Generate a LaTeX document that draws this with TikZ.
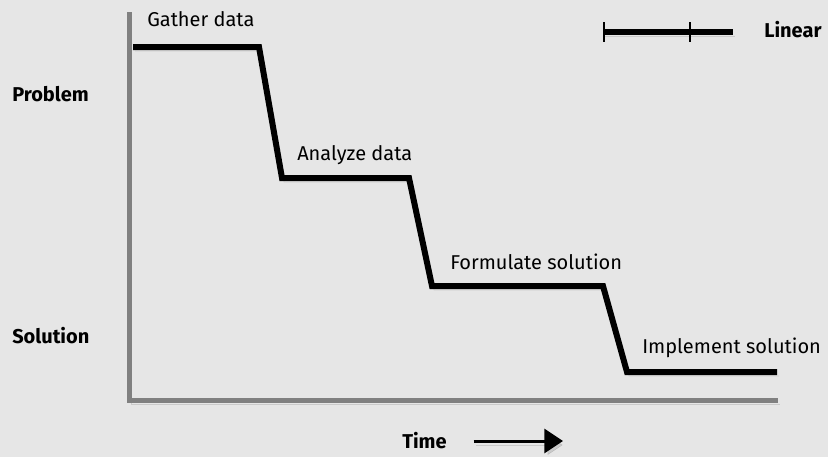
\documentclass[tikz,border=0pt]{standalone}
\usepackage{fontspec}
\setmainfont{Fira Sans}
\usepackage{xcolor}
\definecolor{backgray}{HTML}{E6E6E6}
\definecolor{axisgray}{HTML}{808080}
\usetikzlibrary{positioning,arrows.meta}

\begin{document}
\begin{tikzpicture}[x=0.75pt, y=-0.75pt, node distance = 5mm,
	steplabel/.style={anchor=west, inner sep=0pt, font=\fontsize{15}{17}\selectfont},
	axislabel/.style={anchor=west, inner sep=0pt, font=\bfseries\fontsize{15}{17}\selectfont},
	shade/.style={preaction={draw, black, opacity=0.12, transform canvas={shift={(1.5pt,-3pt)}}}},
	stair/.style={line width=4.5pt, draw=black, line join=miter, shade},
	axis/.style={line width=3.75pt, draw=axisgray, shade}]
	\fill[backgray] (0,0) rectangle (828,457);
	\useasboundingbox (0,0) rectangle (828,457);
	% axes
	\coordinate (top) at (129,12);
	\coordinate (origin) at (129,400);
	\coordinate (right) at (778,400);
	\draw[axis] (top) -- (origin) -- (right);
	% staircase
	\coordinate (s1) at (133,47);
	\coordinate (s2) at (259,47);
	\coordinate (s3) at (282,178);
	\coordinate (s4) at (409,178);
	\coordinate (s5) at (432,286);
	\coordinate (s6) at (603,286);
	\coordinate (s7) at (627,372);
	\coordinate (s8) at (777,372);
	\draw[stair] (s1) -- (s2) -- (s3) -- (s4) -- (s5) -- (s6) -- (s7) -- (s8);
	\node (gather) [steplabel] at (147,19) {Gather data};
	\node (analyze) [steplabel] at (297,155) {Analyze data};
	\node (formulate) [steplabel] at (450,262) {Formulate solution};
	\node (implement) [steplabel] at (642,348) {Implement solution};
	% axis labels
	\node (problem) [axislabel] at (12,94) {Problem};
	\node (solution) [axislabel] at (12,336) {Solution};
	\node (time) [axislabel] at (402,441) {Time};
	\coordinate (tend) at (563,441);
	\draw[line width=2.25pt, -{Triangle[length=14pt,width=18pt]}, shade] ([xshift=20pt]time.east) -- (tend);
	% legend
	\coordinate (la) at (603,32);
	\coordinate (lb) at (733,32);
	\draw[stair] (la) -- (lb);
	\draw[line width=1pt, dashed, dash pattern=on 6pt off 3pt] (604,22) -- (604,43);
	\draw[line width=1pt, dashed, dash pattern=on 6pt off 3pt] (690,22) -- (690,43);
	\node (linear) [axislabel] at (764,30) {Linear};
\end{tikzpicture}
\end{document}
